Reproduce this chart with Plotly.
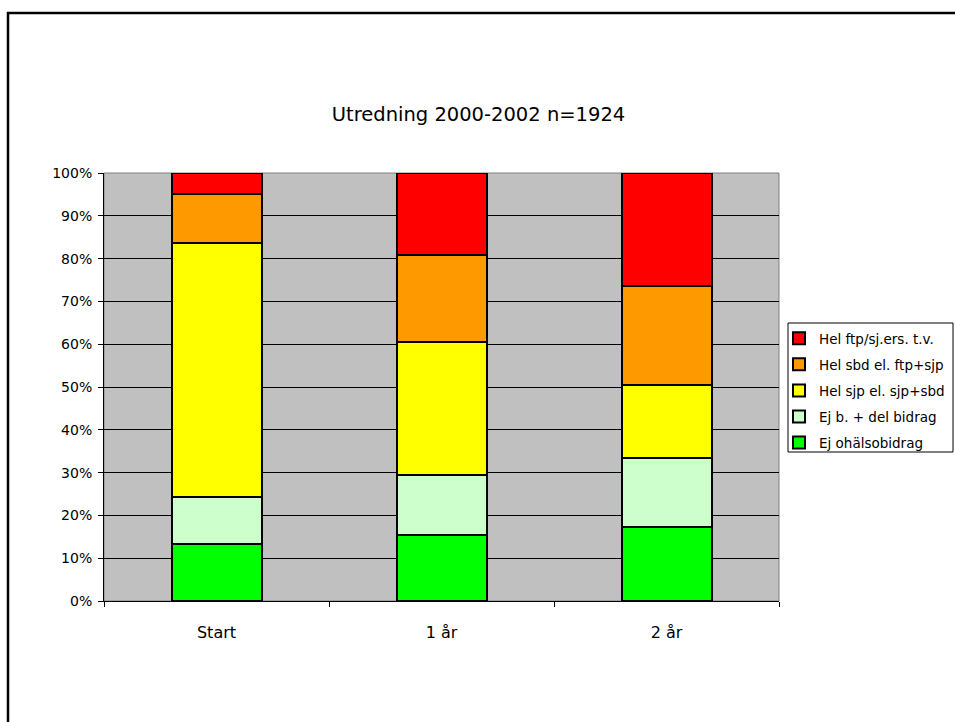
import plotly.graph_objects as go

categories = ["Start", "1 år", "2 år"]

series_names = [
    "Ej ohälsobidrag",
    "Ej b. + del bidrag",
    "Hel sjp el. sjp+sbd",
    "Hel sbd el. ftp+sjp",
    "Hel ftp/sj.ers. t.v.",
]
ej_ohalsobidrag = [13.3, 15.4, 17.4]
ej_b_del_bidrag = [11.1, 14.1, 16.1]
hel_sjp = [59.3, 31.1, 17.0]
hel_sbd = [11.5, 20.2, 23.1]
hel_ftp = [4.8, 19.2, 26.4]
series_values = [ej_ohalsobidrag, ej_b_del_bidrag, hel_sjp, hel_sbd, hel_ftp]
series_colors = ["#00FF00", "#CCFFCC", "#FFFF00", "#FF9900", "#FF0000"]

y_tickvals = [0, 10, 20, 30, 40, 50, 60, 70, 80, 90, 100]
y_ticktext = ["0%", "10%", "20%", "30%", "40%", "50%", "60%", "70%", "80%", "90%", "100%"]

title_text = "Utredning 2000-2002 n=1924"

FONT = "DejaVu Sans, Verdana, sans-serif"

fig = go.Figure()
n = len(series_names)
for i, (name, vals, col) in enumerate(zip(series_names, series_values, series_colors)):
    fig.add_trace(go.Bar(
        x=categories, y=vals, name=name,
        marker=dict(color=col, line=dict(color="#000000", width=2)),
        legendgroup=f"g{i}", legendrank=n - i,
    ))

W, H = 955, 722
L, R, T, B = 104, 955 - 779, 173, 722 - 601
pw, ph = W - L - R, H - T - B

def px2x(px):
    return (px - L) / pw

def py2y(py):
    return (H - B - py) / ph

fig.update_layout(
    width=W, height=H,
    margin=dict(l=L, r=R, t=T, b=B, autoexpand=False),
    barmode="stack", bargap=0.6,
    paper_bgcolor="white", plot_bgcolor="#C0C0C0",
    font=dict(family=FONT, color="#000000", size=14),
    title=dict(text=title_text, x=(331 + 626) / 2 / W, xanchor="center",
               y=1 - 114 / H, yanchor="middle",
               font=dict(size=19.5, family=FONT)),
    xaxis=dict(
        showline=True, linecolor="#000000", linewidth=1,
        ticks="outside", tickson="boundaries", ticklen=5, tickcolor="#000000",
        showgrid=False, tickfont=dict(size=16), zeroline=False,
        ticklabelstandoff=17,
    ),
    yaxis=dict(
        range=[0, 100], tickvals=y_tickvals, ticktext=y_ticktext,
        showline=True, linecolor="#000000", linewidth=1,
        ticks="outside", ticklen=5, tickcolor="#000000",
        showgrid=True, gridcolor="#000000", gridwidth=1,
        zeroline=False, tickfont=dict(size=14), ticklabelstandoff=3,
    ),
    legend=dict(
        x=px2x(779), y=py2y(323), xanchor="left", yanchor="top",
        bgcolor="rgba(0,0,0,0)", borderwidth=0,
        traceorder="grouped", tracegroupgap=5.5,
        font=dict(size=13.5, family=FONT), itemwidth=30,
    ),
    shapes=[
        dict(type="rect", xref="paper", yref="paper", x0=0, x1=1, y0=0, y1=1,
             line=dict(color="#808080", width=1), layer="below"),
        dict(type="rect", xref="paper", yref="paper",
             x0=px2x(788), x1=px2x(953), y0=py2y(323), y1=py2y(452),
             line=dict(color="#000000", width=1), fillcolor="white", layer="below"),
        dict(type="line", xref="paper", yref="paper",
             x0=px2x(7), x1=px2x(955), y0=py2y(13), y1=py2y(13),
             line=dict(color="#000000", width=2.5)),
        dict(type="line", xref="paper", yref="paper",
             x0=px2x(8), x1=px2x(8), y0=py2y(12), y1=py2y(722),
             line=dict(color="#000000", width=2.5)),
    ],
)

fig.write_html("out.html", config={"displayModeBar": False},
               post_script="document.body.style.margin='0';")
